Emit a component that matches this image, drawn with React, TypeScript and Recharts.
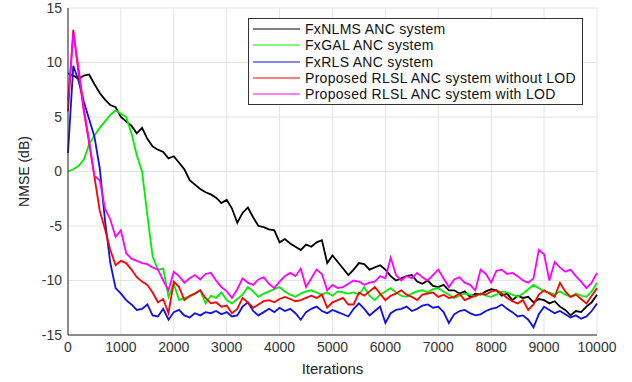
import React from 'react';
import { LineChart, Line, XAxis, YAxis, CartesianGrid, Legend } from 'recharts';

// iterations, sampled every 100
const iterations = [
  0, 100, 200, 300, 400, 500, 600, 700, 800, 900,
  1000, 1100, 1200, 1300, 1400, 1500, 1600, 1700, 1800, 1900,
  2000, 2100, 2200, 2300, 2400, 2500, 2600, 2700, 2800, 2900,
  3000, 3100, 3200, 3300, 3400, 3500, 3600, 3700, 3800, 3900,
  4000, 4100, 4200, 4300, 4400, 4500, 4600, 4700, 4800, 4900,
  5000, 5100, 5200, 5300, 5400, 5500, 5600, 5700, 5800, 5900,
  6000, 6100, 6200, 6300, 6400, 6500, 6600, 6700, 6800, 6900,
  7000, 7100, 7200, 7300, 7400, 7500, 7600, 7700, 7800, 7900,
  8000, 8100, 8200, 8300, 8400, 8500, 8600, 8700, 8800, 8900,
  9000, 9100, 9200, 9300, 9400, 9500, 9600, 9700, 9800, 9900,
  10000,
];

const fxnlms = [
  9.0, 8.8, 8.5, 8.8, 8.9, 8.0, 7.2, 6.6, 6.1, 5.9,
  5.0, 4.6, 4.2, 3.5, 4.0, 3.0, 2.3, 2.0, 1.8, 1.2,
  1.4, 0.8, 0.2, -0.8, -1.2, -1.6, -1.9, -2.1, -2.4, -2.9,
  -2.6, -3.4, -4.7, -3.8, -3.3, -4.2, -5.0, -5.1, -5.3, -5.4,
  -6.5, -6.2, -6.6, -6.9, -7.2, -6.7, -6.9, -6.5, -6.3, -8.4,
  -7.7, -8.3, -8.9, -9.5, -9.0, -8.4, -8.5, -9.0, -8.8, -8.6,
  -9.0, -9.6, -10.0, -9.8, -9.6, -9.5, -10.1, -10.3, -10.0, -10.5,
  -10.6, -10.4, -10.9, -10.9, -11.2, -11.0, -11.5, -11.2, -11.3, -11.0,
  -10.8, -10.9, -11.4, -11.2, -11.8, -11.4, -11.6, -11.5, -12.0, -11.7,
  -11.8, -12.1, -11.9, -12.4, -12.7, -13.2, -12.8, -12.9, -12.4, -12.0,
  -11.3,
];

const fxgal = [
  0.0, 0.2, 0.5, 1.1, 2.5, 3.3, 4.0, 4.6, 5.2, 5.6,
  5.3, 5.0, 3.5, 1.5, 0.0, -4.0, -7.8, -9.0, -8.9, -11.5,
  -10.3, -11.8, -11.6, -11.5, -11.2, -10.9, -12.1, -11.4, -11.6, -11.1,
  -11.8, -12.1, -11.7, -11.3, -10.6, -11.0, -11.5, -11.2, -11.0, -10.8,
  -10.6, -11.0, -11.3, -11.5, -11.2, -11.0, -10.9, -11.1, -11.3, -11.1,
  -11.4, -11.0, -11.1, -11.2, -11.1, -11.3, -10.6, -11.4, -11.8, -11.3,
  -11.0, -10.7, -11.1, -11.4, -11.5, -11.2, -11.0, -10.9, -11.1, -10.8,
  -10.7, -11.0, -11.3, -11.6, -11.4, -11.2, -11.3, -11.5, -11.2, -11.4,
  -11.5, -11.3, -11.0, -11.1, -11.3, -11.5, -11.2, -10.8, -10.4, -10.7,
  -11.0, -11.1, -11.3, -11.0, -11.3, -11.5, -11.2, -11.4, -11.5, -11.0,
  -10.2,
];

const fxrls = [
  1.7, 9.7, 8.3, 6.4, 4.8, 3.2, 0.3, -4.5, -8.4, -10.7,
  -11.2, -11.8, -12.2, -12.7, -12.6, -12.2, -13.2, -13.3, -12.6, -13.6,
  -12.9, -12.7, -13.2, -13.4, -13.0, -13.2, -12.9, -13.0, -12.8, -13.1,
  -12.9, -13.3, -13.2, -12.4, -12.0, -12.8, -13.2, -12.9, -12.6, -12.9,
  -12.5, -12.8, -12.6, -13.0, -13.6, -12.9, -12.6, -12.4, -12.8, -13.0,
  -12.7, -12.9, -13.1, -13.3, -12.6, -12.1, -12.6, -13.2, -12.8, -12.4,
  -13.9, -13.0, -12.7, -12.6, -12.4, -12.8, -12.6, -12.3, -12.2, -12.5,
  -12.4, -12.9, -13.9, -13.1, -12.8, -12.7, -13.0, -13.2, -13.1, -12.8,
  -12.6, -12.5, -12.2, -12.6, -12.9, -13.3, -13.2, -13.6, -14.3, -13.1,
  -12.4, -12.7, -13.0, -12.8, -13.1, -13.4, -13.2, -13.5, -13.3, -12.8,
  -12.1,
];

const rlslNoLod = [
  5.5, 13.0, 9.0, 5.5, 2.6, -0.5, -3.6, -5.3, -7.2, -8.6,
  -8.2, -8.4, -9.0, -9.7, -10.1, -10.4, -11.1, -12.0, -11.7, -13.0,
  -10.1, -10.6, -11.8, -11.4, -11.2, -10.9, -11.6, -12.1, -12.0, -12.4,
  -12.3, -13.0, -12.6, -11.6, -12.0, -12.5, -12.2, -11.9, -11.8, -12.0,
  -11.7, -11.5, -11.7, -11.9, -11.8, -11.6, -11.4, -11.6, -11.3, -12.5,
  -12.0, -11.8, -11.6, -12.2, -12.2, -11.1, -11.4, -11.0, -10.6, -11.2,
  -11.8, -11.4, -11.2, -10.9, -11.3, -11.5, -11.8, -11.3, -11.2, -11.1,
  -11.5, -11.3, -11.6, -11.5, -11.2, -11.8, -11.6, -11.4, -11.2, -11.3,
  -11.0, -10.9, -11.2, -11.6, -11.9, -12.1, -11.8, -12.7, -12.2, -11.3,
  -10.9, -11.2, -11.5, -10.2, -11.0, -11.5, -11.3, -11.7, -12.1, -11.4,
  -10.7,
];

const rlslLod = [
  6.5, 12.7, 9.5, 5.8, 2.8, -0.4, -0.8, -3.4, -4.4, -6.0,
  -5.4, -7.5, -8.0, -8.2, -8.4, -8.5, -8.8, -9.0, -10.0, -10.9,
  -9.2, -9.6, -10.2, -9.8, -9.5, -9.9, -9.4, -9.3, -10.0, -10.6,
  -11.0, -11.6, -10.8, -9.8, -10.2, -10.4, -9.9, -9.7, -10.3, -10.7,
  -10.1, -9.6, -9.3, -9.6, -8.9, -10.6, -9.8, -9.0, -9.4, -10.9,
  -10.4, -10.7, -10.6, -10.3, -10.0, -10.1, -10.4, -10.2, -10.1, -9.6,
  -9.8, -7.9, -9.5, -10.0, -9.6, -9.8, -9.3, -9.7, -10.0, -9.5,
  -9.0, -9.8, -10.6, -9.9, -9.7, -10.2, -10.4, -10.9, -9.0, -9.4,
  -10.2, -9.1, -9.0, -9.4, -9.3, -9.6, -10.0, -10.2, -9.8, -7.2,
  -7.6, -10.0, -8.3, -8.8, -9.2, -9.0, -9.6, -10.1, -10.7, -10.2,
  -9.3,
];

const xTicks = [0, 1000, 2000, 3000, 4000, 5000, 6000, 7000, 8000, 9000, 10000];
const yTicks = [-15, -10, -5, 0, 5, 10, 15];

const series = [
  { key: 'fxnlms', name: 'FxNLMS ANC system', color: '#000000' },
  { key: 'fxgal', name: 'FxGAL ANC system', color: '#00ee00' },
  { key: 'fxrls', name: 'FxRLS ANC system', color: '#1010e0' },
  { key: 'rlslNoLod', name: 'Proposed RLSL ANC system without LOD', color: '#ff0000' },
  { key: 'rlslLod', name: 'Proposed RLSL ANC system with LOD', color: '#ff00ff' },
];

const data = iterations.map((it, i) => ({
  it,
  fxnlms: fxnlms[i],
  fxgal: fxgal[i],
  fxrls: fxrls[i],
  rlslNoLod: rlslNoLod[i],
  rlslLod: rlslLod[i],
}));

const font = '"Liberation Sans", Arial, sans-serif';

function LegendBox() {
  return (
    <div
      style={{
        border: '1px solid #333',
        background: '#fff',
        padding: '2px 4px',
        fontFamily: font,
        fontSize: 14,
        letterSpacing: 0.3,
        color: '#111',
        boxSizing: 'border-box',
      }}
    >
      {series.map((s) => (
        <div key={s.key} style={{ display: 'flex', alignItems: 'center', height: 16.3, whiteSpace: 'nowrap' }}>
          <svg width={47} height={4} style={{ marginRight: 5 }}>
            <line x1={0} y1={2} x2={47} y2={2} stroke={s.color} strokeWidth={1.2} />
          </svg>
          <span>{s.name}</span>
        </div>
      ))}
    </div>
  );
}

export default function App() {
  const tick = { fontSize: 14, fill: '#333', fontFamily: font };
  return (
    <div style={{ position: 'absolute', left: 0, top: 0, width: 632, height: 382, background: '#fff' }}>
      <LineChart width={632} height={382} data={data} margin={{ top: 8, right: 35, left: 0, bottom: 0 }}>
        <CartesianGrid stroke="#e4e4e4" strokeWidth={1} />
        <XAxis
          dataKey="it"
          type="number"
          domain={[0, 10000]}
          ticks={xTicks}
          interval={0}
          height={47}
          tickSize={0}
          tickMargin={7}
          tickLine={false}
          stroke="#262626"
          tick={tick}
          label={{ value: 'Iterations', position: 'insideBottom', offset: 8, fontSize: 15, fill: '#222', fontFamily: font }}
        />
        <YAxis
          type="number"
          domain={[-15, 15]}
          ticks={yTicks}
          interval={0}
          width={68}
          tickSize={0}
          tickMargin={6}
          tickLine={false}
          stroke="#262626"
          tick={tick}
          label={{ value: 'NMSE (dB)', angle: -90, position: 'insideLeft', offset: 24, fontSize: 14, fill: '#222', fontFamily: font, style: { textAnchor: 'middle' } }}
        />
        <Legend
          layout="vertical"
          align="center"
          verticalAlign="middle"
          content={() => <LegendBox />}
          wrapperStyle={{ left: 248, top: 18, width: 335 }}
        />
        {series.map((s) => (
          <Line
            key={s.key}
            type="linear"
            dataKey={s.key}
            name={s.name}
            stroke={s.color}
            strokeWidth={1.8}
            dot={false}
            isAnimationActive={false}
          />
        ))}
      </LineChart>
    </div>
  );
}
